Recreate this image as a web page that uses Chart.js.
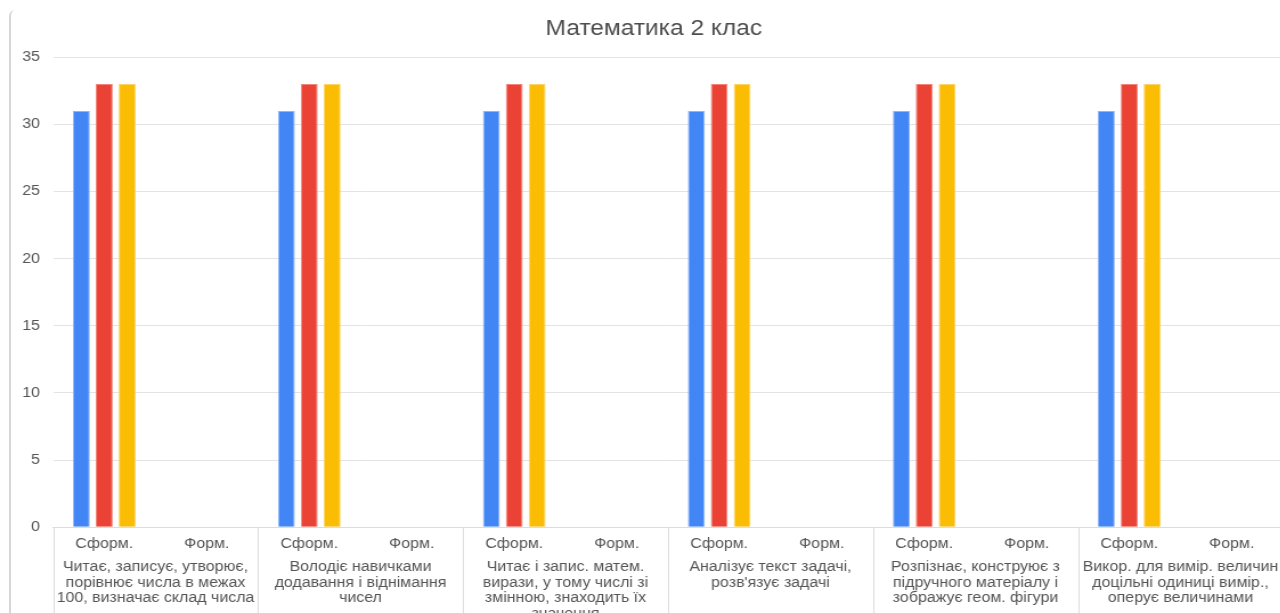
<!DOCTYPE html>
<html>
<head>
    <meta charset="utf-8">
    <title>Математика 2 клас</title>
    <script src="https://cdn.jsdelivr.net/npm/chart.js"></script>
    <style>
        body { margin: 0; width: 1280px; height: 613px; overflow: hidden; background: #fff; }
        #frame { position: absolute; left: 9px; top: 10px; width: 1400px; height: 700px;
                 border-left: 2px solid #d6d6d6; border-top-left-radius: 6px; }
        /* the source screenshot is stretched sideways, so stretch the canvas the same way */
        #wrap { position: absolute; left: 0; top: 0; transform: scaleX(1.14); transform-origin: 0 0; }
    </style>
</head>
<body>
    <div id="frame"></div>
    <div id="wrap"><canvas id="chart" width="1147" height="621"></canvas></div>

    <script>
        const groups = [
            ['Читає, записує, утворює,', 'порівнює числа в межах', '100, визначає склад числа'],
            ['Володіє навичками', 'додавання і віднімання', 'чисел'],
            ['Читає і запис. матем.', 'вирази, у тому числі зі', 'змінною, знаходить їх', 'значення'],
            ['Аналізує текст задачі,', 'розв\'язує задачі'],
            ['Розпізнає, конструює з', 'підручного матеріалу і', 'зображує геом. фігури'],
            ['Викор. для вимір. величин', 'доцільні одиниці вимір.,', 'оперує величинами']
        ];
        const subLabels = ['Сформ.', 'Форм.'];

        // values per group: [Сформ., Форм.]
        const blueVals   = [[31, 0], [31, 0], [31, 0], [31, 0], [31, 0], [31, 0]];
        const redVals    = [[33, 0], [33, 0], [33, 0], [33, 0], [33, 0], [33, 0]];
        const yellowVals = [[33, 0], [33, 0], [33, 0], [33, 0], [33, 0], [33, 0]];

        const labels = groups.flatMap(() => subLabels);
        const flat = v => v.flat();

        // group separators below the plot
        const separators = {
            id: 'separators',
            afterDraw(chart) {
                const x = chart.scales.x, c = chart.ctx;
                const area = chart.chartArea;
                c.save();
                c.strokeStyle = '#dcdcdc';
                c.lineWidth = 1;
                for (let i = 0; i <= labels.length; i += 2) {
                    const px = Math.round(x.getPixelForValue(i - 0.5)) + 0.5;
                    c.beginPath();
                    c.moveTo(px, area.bottom);
                    c.lineTo(px, chart.height);
                    c.stroke();
                }
                c.restore();
            }
        };

        const font = { family: 'Liberation Sans', size: 14 };

        const ctx = document.getElementById('chart').getContext('2d');
        const chart = new Chart(ctx, {
            type: 'bar',
            data: {
                labels: labels,
                datasets: [
                    { data: flat(blueVals), backgroundColor: '#4285f4', borderColor: '#8db4f8', borderWidth: 1 },
                    { data: flat(redVals), backgroundColor: '#ea4335', borderColor: '#f2847a', borderWidth: 1 },
                    { data: flat(yellowVals), backgroundColor: '#fbbc04', borderColor: '#fdd566', borderWidth: 1 }
                ]
            },
            options: {
                responsive: false,
                animation: false,
                datasets: { bar: { barPercentage: 0.74, categoryPercentage: 0.67 } },
                layout: { padding: 0 },
                plugins: {
                    legend: { display: false },
                    tooltip: { enabled: false },
                    title: {
                        display: true,
                        text: 'Математика 2 клас',
                        color: '#4d4d4d',
                        font: { family: 'Liberation Sans', size: 21.5, weight: 'normal' },
                        padding: { top: 16.2, bottom: 15.2 }
                    }
                },
                scales: {
                    y: {
                        min: 0, max: 35,
                        ticks: { stepSize: 5, color: '#555', padding: 11.4, font: font },
                        grid: { color: '#e3e3e3', drawTicks: false },
                        border: { display: false },
                        afterFit(s) { s.width = 46.5; }
                    },
                    // empty margin on the right of the plot
                    yRight: {
                        position: 'right',
                        ticks: { display: false },
                        grid: { display: false, drawTicks: false },
                        border: { display: false },
                        afterFit(s) { s.width = 21.6; }
                    },
                    x: {
                        ticks: { color: '#555', padding: 9.5, autoSkip: false, maxRotation: 0,
                                 font: { family: 'Liberation Sans', size: 14, lineHeight: 1.0 } },
                        grid: { display: false, drawTicks: false },
                        border: { display: true, color: '#dcdcdc' }
                    },
                    x2: {
                        type: 'category',
                        position: 'bottom',
                        labels: groups,
                        offset: true,
                        ticks: { color: '#555', padding: -1, autoSkip: false, maxRotation: 0,
                                 font: { family: 'Liberation Sans', size: 14, lineHeight: 1.12 } },
                        grid: { display: false, drawTicks: false },
                        border: { display: false }
                    }
                }
            },
            plugins: [separators]
        });
    </script>
</body>
</html>
